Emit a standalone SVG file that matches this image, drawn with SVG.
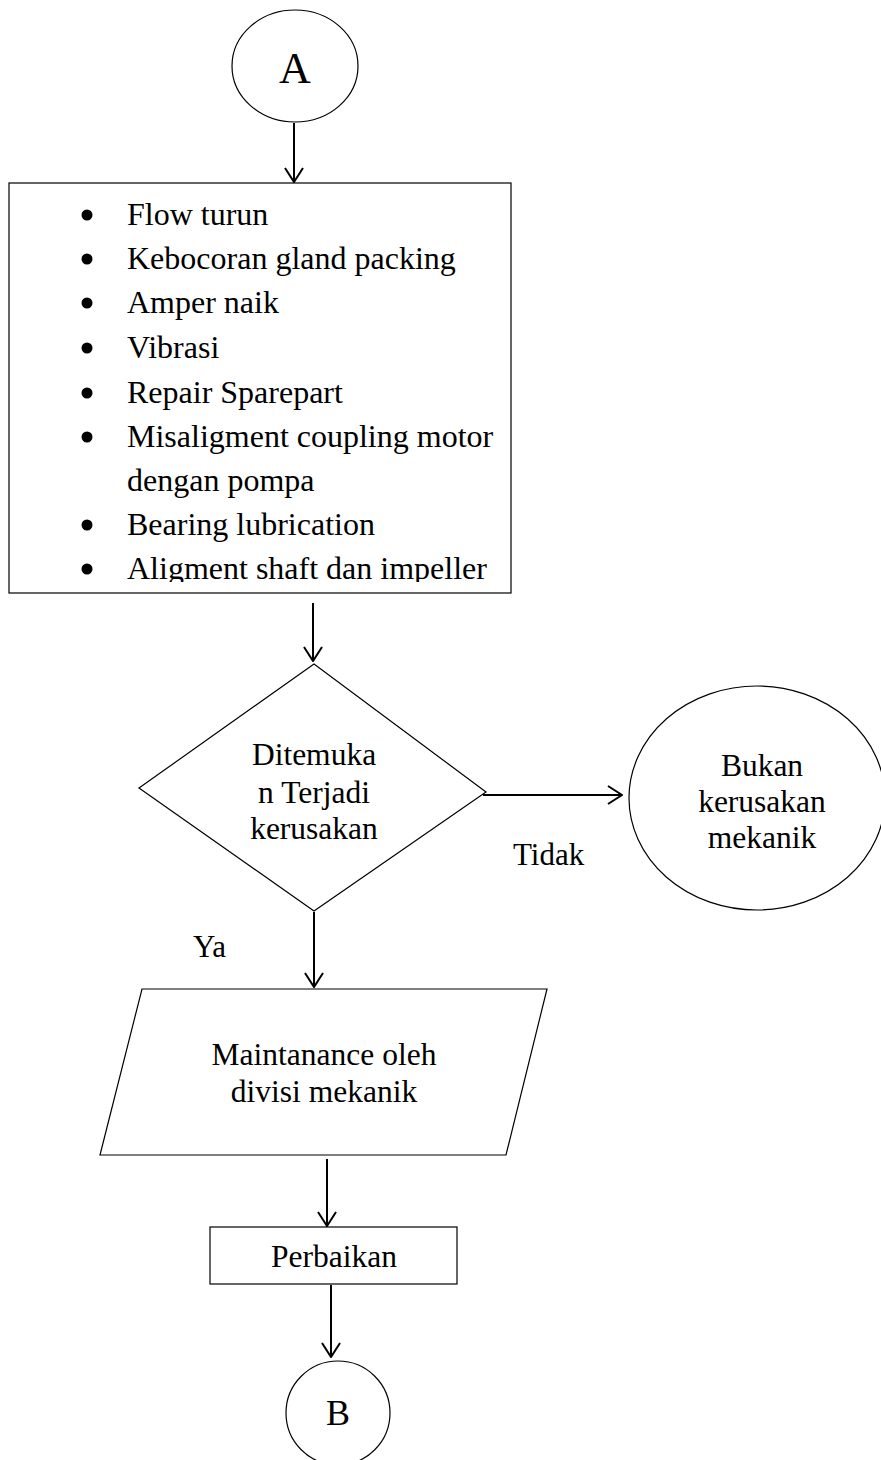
<svg xmlns="http://www.w3.org/2000/svg" width="881" height="1460" viewBox="0 0 881 1460">
<style>
.s{fill:#fff;stroke:#000;stroke-width:1.2}
.t{font-family:"Liberation Serif","Times New Roman",serif;fill:#000}
.c{stroke:#000;stroke-width:2;fill:none}
</style>
<defs>
<marker id="ah" viewBox="0 0 16 20" refX="15" refY="10" markerWidth="16" markerHeight="20" markerUnits="userSpaceOnUse" orient="auto">
<path d="M1,1 L15,10 L1,19" fill="none" stroke="#000" stroke-width="2"/>
</marker>
<clipPath id="boxclip"><rect x="9" y="183" width="502" height="399"/></clipPath>
</defs>
<rect width="881" height="1460" fill="#fff"/>
<g id="connectors">
<line class="c" x1="294" y1="123" x2="294" y2="182" marker-end="url(#ah)"/>
<line class="c" x1="313" y1="603" x2="313" y2="661" marker-end="url(#ah)"/>
<line class="c" x1="483" y1="795" x2="622" y2="795" marker-end="url(#ah)"/>
<line class="c" x1="314" y1="912" x2="314" y2="987" marker-end="url(#ah)"/>
<line class="c" x1="327" y1="1159" x2="327" y2="1226" marker-end="url(#ah)"/>
<line class="c" x1="331" y1="1285" x2="331" y2="1357" marker-end="url(#ah)"/>
<text class="t" x="513" y="865" font-size="31">Tidak</text>
<text class="t" x="193" y="957" font-size="31">Ya</text>
</g>
<g id="nodeA">
<ellipse class="s" cx="295" cy="66" rx="63" ry="56"/>
<text class="t" x="295" y="83" font-size="44" text-anchor="middle">A</text>
</g>
<g id="list">
<rect class="s" x="9" y="183" width="502" height="410"/>
<g clip-path="url(#boxclip)">
<g fill="#000">
<circle cx="87" cy="215" r="5.5"/><circle cx="87" cy="259" r="5.5"/><circle cx="87" cy="303" r="5.5"/><circle cx="87" cy="348" r="5.5"/><circle cx="87" cy="393" r="5.5"/><circle cx="87" cy="437" r="5.5"/><circle cx="87" cy="525" r="5.5"/><circle cx="87" cy="569" r="5.5"/>
</g>
<g class="t" font-size="32">
<text x="127" y="225">Flow turun</text>
<text x="127" y="269">Kebocoran gland packing</text>
<text x="127" y="313">Amper naik</text>
<text x="127" y="358">Vibrasi</text>
<text x="127" y="403">Repair Sparepart</text>
<text x="127" y="447">Misaligment coupling motor</text>
<text x="127" y="491">dengan pompa</text>
<text x="127" y="535">Bearing lubrication</text>
<text x="127" y="579">Aligment shaft dan impeller</text>
</g>
</g>
</g>
<g id="decision">
<polygon class="s" points="314,664 486,792 314,911 139,788"/>
<g class="t" font-size="31.5" text-anchor="middle">
<text x="314" y="765">Ditemuka</text>
<text x="314" y="803">n Terjadi</text>
<text x="314" y="839">kerusakan</text>
</g>
</g>
<g id="bukan">
<ellipse class="s" cx="757" cy="798" rx="128" ry="112"/>
<g class="t" font-size="31.5" text-anchor="middle">
<text x="762" y="776">Bukan</text>
<text x="762" y="812">kerusakan</text>
<text x="762" y="848">mekanik</text>
</g>
</g>
<g id="maintenance">
<polygon class="s" points="142,989 547,989 506,1155 100,1155"/>
<g class="t" font-size="31.5" text-anchor="middle">
<text x="324" y="1065">Maintanance oleh</text>
<text x="324" y="1102">divisi mekanik</text>
</g>
</g>
<g id="perbaikan">
<rect class="s" x="210" y="1227" width="247" height="57"/>
<text class="t" x="334" y="1267" font-size="31.5" text-anchor="middle">Perbaikan</text>
</g>
<g id="nodeB">
<ellipse class="s" cx="338" cy="1413" rx="52" ry="52"/>
<text class="t" x="338" y="1425" font-size="36" text-anchor="middle">B</text>
</g>
</svg>
